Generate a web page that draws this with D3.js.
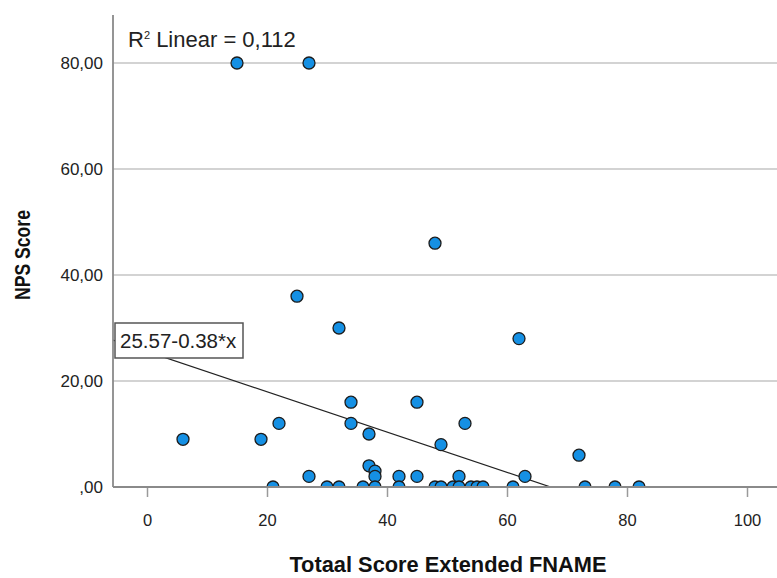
<!DOCTYPE html>
<html><head><meta charset="utf-8">
<script src="https://cdn.jsdelivr.net/npm/d3@7"></script>
<style>body{margin:0;background:#fff}svg{display:block}</style>
</head><body>
<script>
const xValues = [15,27,48,25,32,62,6,19,22,34,34,37,45,53,49,72,37,38,38,27,42,45,52,63,
  21,30,32,36,38,42,48,49,51,52,54,55,56,61,73,78,82];
const yValues = [80,80,46,36,30,28,9,9,12,16,12,10,16,12,8,6,4,3,2,2,2,2,2,2,
  0,0,0,0,0,0,0,0,0,0,0,0,0,0,0,0,0];
const xTicks = [0,20,40,60,80,100];
const yTicks = [0,20,40,60,80];
const intercept = 25.57, slope = -0.38;
const r2Label = "0,112";
const eqLabel = "25.57-0.38*x";
const xTitle = "Totaal Score Extended FNAME";
const yTitle = "NPS Score";

const W = 777, H = 578;
const L = 113, R = 777, T = 15, B = 487;
const x = d3.scaleLinear().domain([0,100]).range([147,747]);
const y = d3.scaleLinear().domain([0,80]).range([487,63]);
const svg = d3.select("body").append("svg").attr("width",W).attr("height",H);
const font = "'Liberation Sans', Arial, sans-serif";
const narrow = "'Liberation Sans Narrow', 'Arial Narrow', 'Liberation Sans', Arial, sans-serif";

svg.append("defs").append("clipPath").attr("id","plot")
  .append("rect").attr("x",L).attr("y",T).attr("width",R-L).attr("height",B-T);

// gridlines
svg.append("g").selectAll("line").data(yTicks.filter(d=>d>0)).join("line")
  .attr("x1",L).attr("x2",R).attr("y1",d=>y(d)).attr("y2",d=>y(d))
  .attr("stroke","#c4c4c4").attr("stroke-width",1.3);

// regression line
const xEnd = -intercept/slope;
const xStart = x.invert(L);
svg.append("line").attr("clip-path","url(#plot)")
  .attr("x1",x(xStart)).attr("y1",y(intercept+slope*xStart))
  .attr("x2",x(xEnd)).attr("y2",y(intercept+slope*xEnd))
  .attr("stroke","#222").attr("stroke-width",1.3);

// points
const pts = xValues.map((v,i)=>({x:v,y:yValues[i]}));
svg.append("g").attr("clip-path","url(#plot)").selectAll("circle").data(pts).join("circle")
  .attr("cx",d=>x(d.x)).attr("cy",d=>y(d.y)).attr("r",6)
  .attr("fill","#1590e4").attr("stroke","#1c1c1c").attr("stroke-width",1.3);

// x axis
const xa = svg.append("g").attr("transform",`translate(0,${B})`)
  .call(d3.axisBottom(x).tickValues(xTicks).tickSize(10).tickSizeOuter(0).tickFormat(d3.format("d")));
xa.select(".domain").remove();
xa.selectAll(".tick line").attr("stroke","#9a9a9a").attr("stroke-width",1.5);
xa.selectAll("text").attr("font-family",font).attr("font-size",16.5).attr("fill","#222").attr("y",27).attr("dy","0.71em");
svg.append("line").attr("x1",L).attr("x2",R).attr("y1",B).attr("y2",B).attr("stroke","#8a8a8a").attr("stroke-width",1.8);

// y axis
const ya = svg.append("g").attr("transform",`translate(${L},0)`)
  .call(d3.axisLeft(y).tickValues(yTicks).tickSize(0).tickPadding(10)
    .tickFormat(d=>d===0?",00":d3.format(".2f")(d).replace(".",",")));
ya.select(".domain").remove();
ya.selectAll("text").attr("font-family",font).attr("font-size",17).attr("fill","#222");
svg.append("line").attr("x1",L).attr("x2",L).attr("y1",T).attr("y2",B).attr("stroke","#8a8a8a").attr("stroke-width",1.8);

// R2 label
const rt = svg.append("text").attr("x",128).attr("y",47).attr("font-family",font).attr("font-size",22).attr("fill","#222");
rt.append("tspan").text("R");
rt.append("tspan").attr("font-size",11).attr("dy",-8).text("2");
rt.append("tspan").attr("dy",8).text(" Linear = " + r2Label);

// equation box
svg.append("rect").attr("x",115).attr("y",323).attr("width",128).attr("height",35)
  .attr("fill","#fff").attr("stroke","#555").attr("stroke-width",1.5);
svg.append("text").attr("x",120).attr("y",348).attr("font-family",font).attr("font-size",20.5).attr("fill","#222").text(eqLabel);

// titles
svg.append("text").attr("transform","translate(448,572) scale(0.97,1)").attr("text-anchor","middle")
  .attr("font-family",narrow).attr("font-weight","bold").attr("font-size",22.5).attr("fill","#111").text(xTitle);
svg.append("text").attr("transform","translate(30,255) rotate(-90) scale(0.8,1)").attr("text-anchor","middle")
  .attr("font-family",narrow).attr("font-weight","bold").attr("font-size",22).attr("fill","#111").text(yTitle);
</script>
</body></html>
